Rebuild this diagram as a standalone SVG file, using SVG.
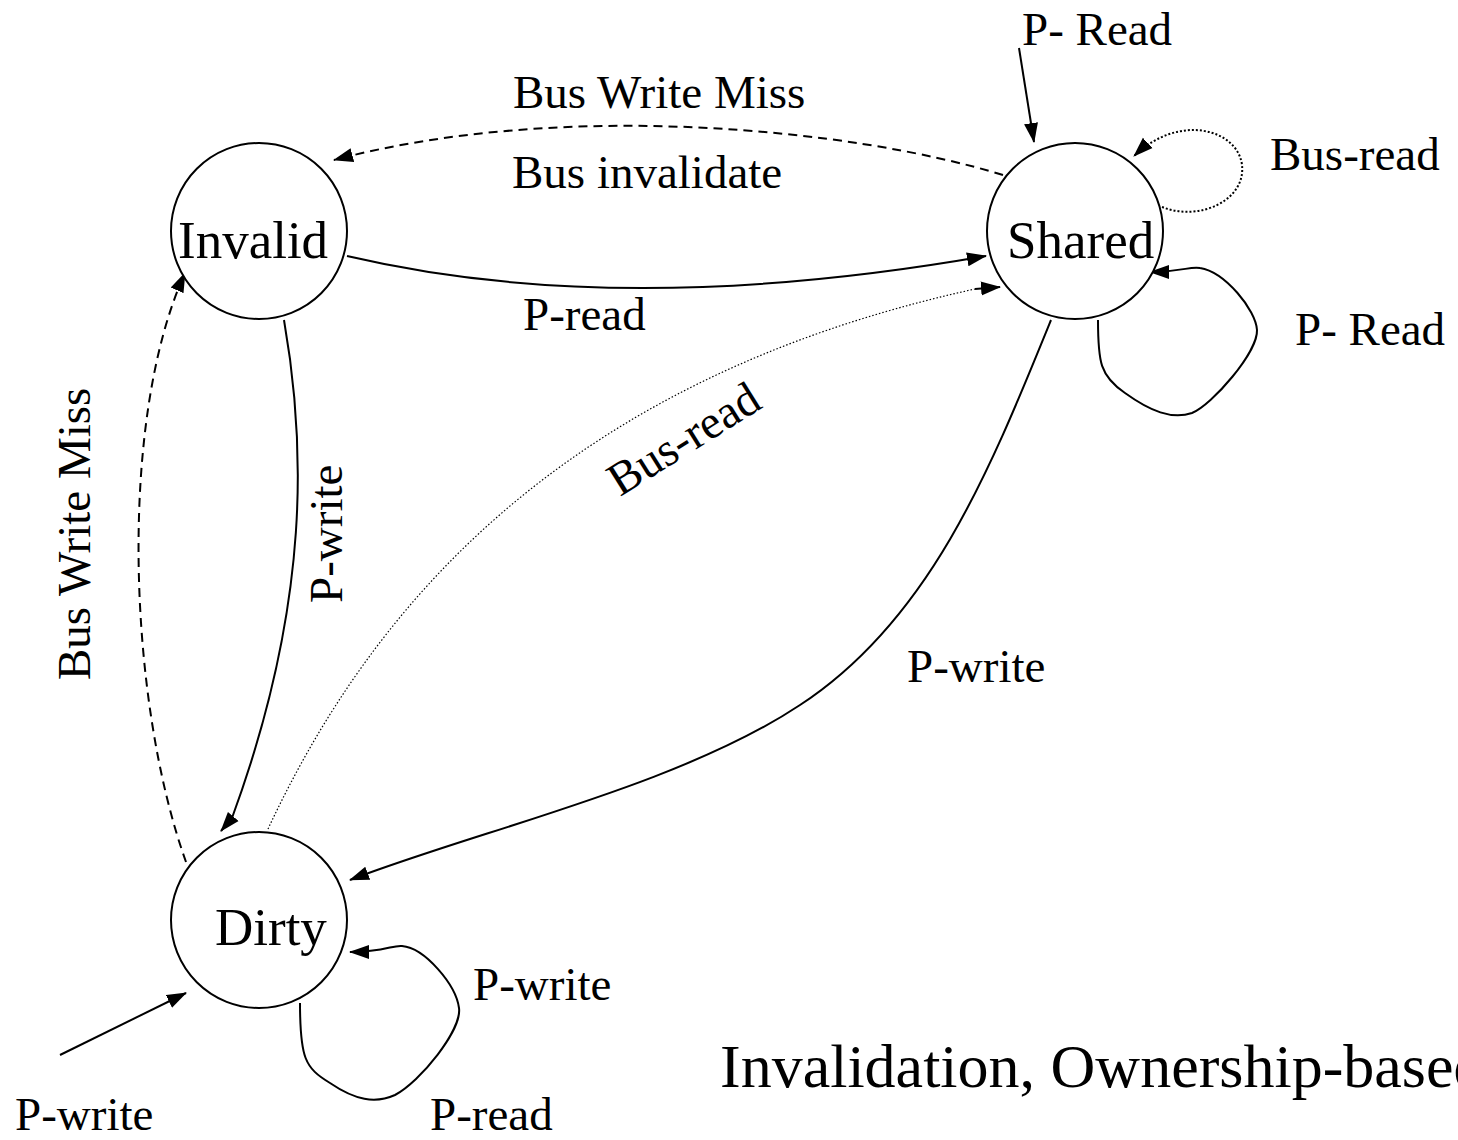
<svg xmlns="http://www.w3.org/2000/svg" width="1458" height="1140" viewBox="0 0 1458 1140">
  <style>
    .state { fill: #fff; stroke: #000; stroke-width: 2; }
    .lbl { font-family: "Liberation Serif", "Times New Roman", serif; font-size: 47px; fill: #000; }
    .name { font-family: "Liberation Serif", "Times New Roman", serif; font-size: 53px; fill: #000; }
    .title { font-family: "Liberation Serif", "Times New Roman", serif; font-size: 62px; fill: #000; }
    .edge { fill: none; stroke: #000; stroke-width: 2; }
    .dash { stroke-dasharray: 9 6; }
    .dot { stroke-dasharray: 2 2; }
    .fine { stroke-width: 1.2; stroke-dasharray: 1.5 2; }
  </style>
  <defs>
    <marker id="arrow" markerUnits="userSpaceOnUse" markerWidth="20" markerHeight="16" viewBox="0 0 20 16" refX="19" refY="8" orient="auto">
      <path d="M0,1 L20,8 L0,15 Z" fill="#000"/>
    </marker>
  </defs>

  <!-- transitions -->
  <g id="connectors">
    <!-- Shared -> Invalid : bus write miss / bus invalidate -->
    <path class="edge dash" d="M1003,175 C 850,128 560,100 334,160" marker-end="url(#arrow)"/>
    <!-- Invalid -> Shared : P-read -->
    <path class="edge" d="M347,256 Q 620,320 986,256" marker-end="url(#arrow)"/>
    <!-- Dirty -> Shared : bus read -->
    <path class="edge fine" d="M268,829 C 370,610 560,380 975,289"/>
    <path class="edge" d="M975,289 L1000,287" marker-end="url(#arrow)"/>
    <!-- Invalid -> Dirty : P-write -->
    <path class="edge" d="M284,320 C 305,440 312,600 232,818 L221,831" marker-end="url(#arrow)"/>
    <!-- Dirty -> Invalid : bus write miss -->
    <path class="edge dash" d="M186,862 C 128,700 118,420 185,273" marker-end="url(#arrow)"/>
    <!-- Shared -> Dirty : P-write -->
    <path class="edge" d="M1051,320 C 990,470 930,620 800,705 C 680,785 480,830 350,880" marker-end="url(#arrow)"/>
    <!-- Shared self loop : bus read -->
    <path class="edge dot" d="M1162,207 C 1200,222 1246,200 1242,165 C 1238,130 1180,112 1134,156" marker-end="url(#arrow)"/>
    <!-- Shared self loop : P- Read -->
    <path class="edge" d="M1098,320 C 1098,362 1100,376 1125,393 C 1150,411 1172,420 1192,413 C 1212,405 1258,352 1257,330 C 1256,310 1225,272 1200,268 C 1190,266 1182,272 1150,272" marker-end="url(#arrow)"/>
    <!-- entry into Shared : P- Read -->
    <path class="edge" d="M1019,48 L1034,142" marker-end="url(#arrow)"/>
    <!-- Dirty self loop : P-write / P-read -->
    <path class="edge" d="M300,1003 C 300,1058 305,1068 330,1083 C 355,1100 375,1104 395,1095 C 420,1082 462,1030 459,1008 C 456,985 425,948 402,946 C 392,945 385,952 350,952" marker-end="url(#arrow)"/>
    <!-- entry into Dirty : P-write -->
    <path class="edge" d="M60,1055 L186,993" marker-end="url(#arrow)"/>
  </g>

  <!-- states -->
  <g id="invalid">
    <circle class="state" cx="259" cy="231" r="88"/>
    <text class="name" x="178" y="258">Invalid</text>
  </g>
  <g id="shared">
    <circle class="state" cx="1075" cy="231" r="88"/>
    <text class="name" x="1007" y="258">Shared</text>
  </g>
  <g id="dirty">
    <circle class="state" cx="259" cy="920" r="88"/>
    <text class="name" x="215" y="945">Dirty</text>
  </g>

  <!-- transition labels -->
  <g id="labels">
    <text class="lbl" x="1022" y="45">P- Read</text>
    <text class="lbl" x="513" y="108">Bus Write Miss</text>
    <text class="lbl" x="512" y="188">Bus invalidate</text>
    <text class="lbl" x="1270" y="170">Bus-read</text>
    <text class="lbl" x="523" y="330">P-read</text>
    <text class="lbl" x="1295" y="345">P- Read</text>
    <text class="lbl" transform="translate(342,603) rotate(-90)">P-write</text>
    <text class="lbl" transform="translate(90,680) rotate(-90)">Bus Write Miss</text>
    <text class="lbl" transform="translate(620,497) rotate(-32)">Bus-read</text>
    <text class="lbl" x="907" y="682">P-write</text>
    <text class="lbl" x="473" y="1000">P-write</text>
    <text class="lbl" x="430" y="1130">P-read</text>
    <text class="lbl" x="15" y="1130">P-write</text>
  </g>

  <text class="title" x="720" y="1087">Invalidation, Ownership-based</text>
</svg>
